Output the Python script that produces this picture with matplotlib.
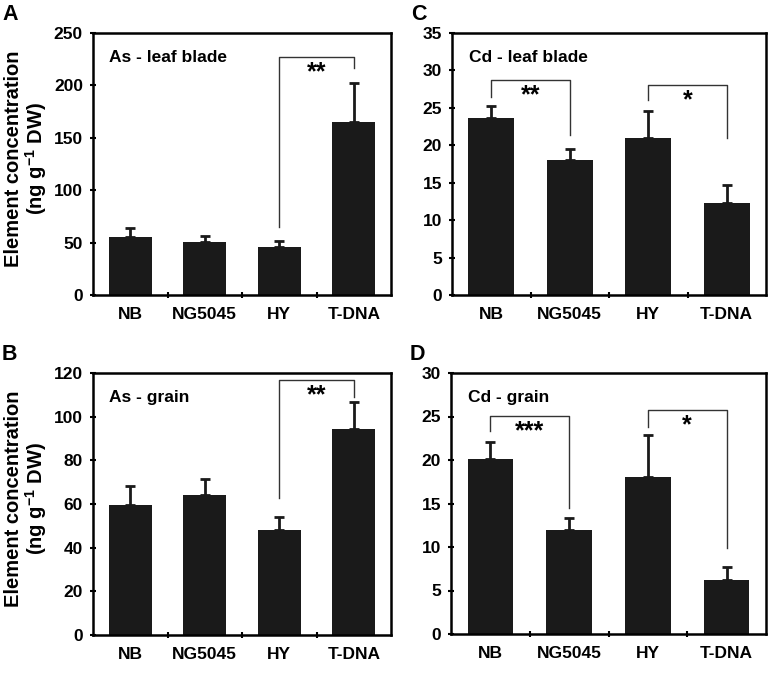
import matplotlib
matplotlib.use('Agg')
import matplotlib.pyplot as plt

plt.rcParams['font.family'] = ['Liberation Sans', 'DejaVu Sans']
plt.rcParams['font.weight'] = 'bold'
plt.rcParams['mathtext.fontset'] = 'custom'
plt.rcParams['mathtext.bf'] = 'Liberation Sans:bold'
plt.rcParams['mathtext.rm'] = 'Liberation Sans:bold'

lines = ['NB', 'NG5045', 'HY', 'T-DNA']

# means and upper error (SD)
as_leaf = [55.3, 50.6, 45.8, 165.0]
as_leaf_err = [8.6, 5.4, 5.7, 37.0]
as_grain = [59.5, 64.1, 48.1, 94.2]
as_grain_err = [8.9, 7.4, 6.1, 12.7]
cd_leaf = [23.7, 18.0, 21.0, 12.25]
cd_leaf_err = [1.5, 1.5, 3.6, 2.45]
cd_grain = [20.1, 11.9, 18.0, 6.2]
cd_grain_err = [2.0, 1.4, 4.9, 1.5]

# brackets: (bar a, bar b, top, foot a, foot b, stars)
as_leaf_sig = [(2, 3, 227, 65, 217, '**')]
as_grain_sig = [(2, 3, 116.8, 62.6, 109.2, '**')]
cd_leaf_sig = [(0, 1, 28.7, 26.5, 21.4, '**'), (2, 3, 28.05, 26.1, 21.0, '*')]
cd_grain_sig = [(0, 1, 25.06, 23.3, 14.45, '***'), (2, 3, 25.75, 23.8, 9.85, '*')]

W, H = 769, 674
fig = plt.figure(figsize=(W / 100, H / 100), dpi=100)


def box(l, t, r, b):
    return [l / W, 1 - b / H, (r - l) / W, (b - t) / H]


panels = [
    ('A', box(93, 33, 391, 295), as_leaf, as_leaf_err, as_leaf_sig, 250, 50, 'As - leaf blade', True),
    ('C', box(452, 33, 766, 295), cd_leaf, cd_leaf_err, cd_leaf_sig, 35, 5, 'Cd - leaf blade', False),
    ('B', box(93, 373, 391, 635), as_grain, as_grain_err, as_grain_sig, 120, 20, 'As - grain', True),
    ('D', box(451, 373, 766, 634), cd_grain, cd_grain_err, cd_grain_sig, 30, 5, 'Cd - grain', False),
]

fs = 12.5
for letter, rect, vals, err, sig, ymax, step, title, ylab in panels:
    ax = fig.add_axes(rect)
    x = list(range(len(lines)))
    ax.bar(x, vals, width=0.58, color='#1a1a1a', zorder=2)
    ax.errorbar(x, vals, yerr=[[0] * len(vals), err], fmt='none', ecolor='#1a1a1a',
                elinewidth=2, capsize=3.6, capthick=2, zorder=2)
    ax.set_xlim(-0.5, 3.5)
    ax.set_ylim(0, ymax)
    ax.set_yticks(range(0, ymax + 1, step))
    ax.set_xticks([0.5, 1.5, 2.5])
    ax.set_xticklabels([])
    ax.set_xticks(x, minor=True)
    ax.set_xticklabels(lines, minor=True, fontsize=fs, fontweight='bold')
    ax.tick_params(axis='x', which='minor', length=0, pad=8.5)
    ax.tick_params(axis='both', which='major', direction='inout', length=5, width=1.5,
                   labelsize=fs, pad=4.7)
    for lab in ax.get_yticklabels():
        lab.set_fontweight('bold')
    for s in ax.spines.values():
        s.set_linewidth(1.8)

    ax.text(0.055, 0.908, title, transform=ax.transAxes, fontsize=fs,
            fontweight='bold', va='center', ha='left')

    for a, b, top, fa, fb, stars in sig:
        ax.plot([a, a, b, b], [fa, top, top, fb], color='#333333', lw=1, zorder=1)
        ax.annotate(stars, xy=((a + b) / 2, top), xytext=(0, -16), textcoords='offset points',
                    ha='center', va='baseline', fontsize=18, fontweight='bold')

    if ylab:
        ax.set_ylabel('Element concentration\n(ng g$^{\\mathbf{-1}}$ DW)', fontsize=14.5,
                      fontweight='bold', linespacing=1.0)
        ax.yaxis.set_label_coords(-0.148, 0.52)

    ax.text(-0.305 if ylab else -0.13, 1.07, letter, transform=ax.transAxes,
            fontsize=15.5, fontweight='bold', va='center', ha='left')

fig.savefig('out.png', dpi=100)
